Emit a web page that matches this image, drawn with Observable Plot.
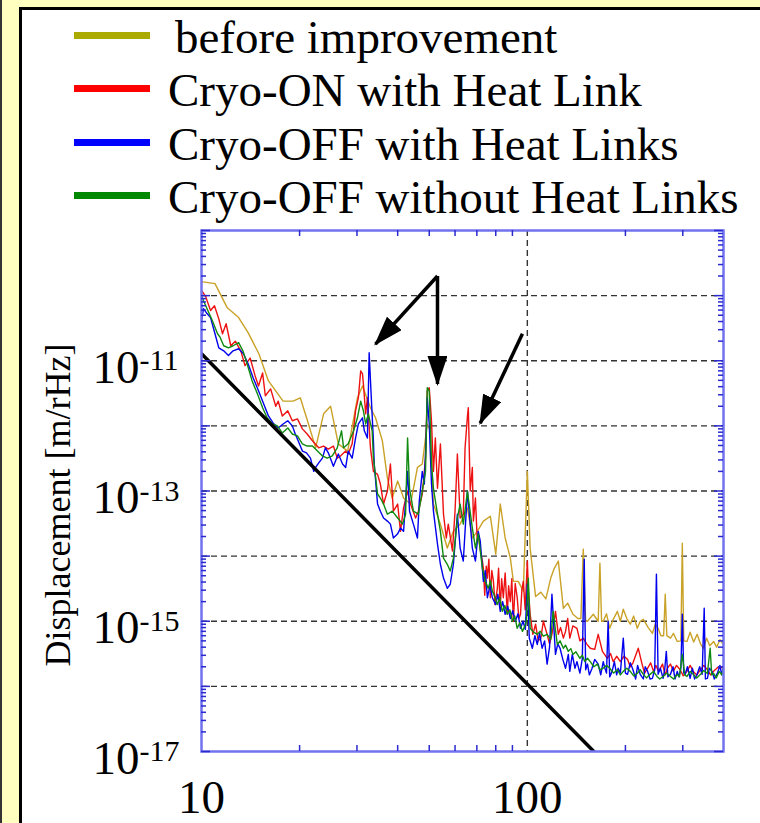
<!DOCTYPE html>
<html><head><meta charset="utf-8">
<script src="https://cdn.jsdelivr.net/npm/d3@7"></script>
<script src="https://cdn.jsdelivr.net/npm/@observablehq/plot@0.6"></script>
<style>
html,body{margin:0;padding:0;}
body{width:760px;height:823px;overflow:hidden;background:#ffffc0;position:relative;font-family:"Liberation Serif","Times New Roman",serif;}
#edge{position:absolute;left:0;top:0;width:2px;height:823px;background:#333;}
#panel{position:absolute;left:19px;top:7px;width:741px;height:816px;background:#fff;border-left:3px solid #000;border-top:3px solid #000;box-sizing:border-box;}
.sw{position:absolute;left:74px;width:76px;height:7px;}
.tx{position:absolute;font-size:47px;line-height:47px;white-space:nowrap;transform:translateY(-50%);color:#000;}
#ytitle{position:absolute;left:58px;top:505px;font-size:36px;line-height:36px;white-space:nowrap;transform:translate(-50%,-50%) rotate(-90deg);}
#chart{position:absolute;left:22px;top:222px;}
</style></head><body>
<div id="edge"></div>
<div id="panel"></div>
<div id="legend"></div>
<div id="ytitle">Displacement [m/rHz]</div>
<div id="chart"></div>
<script>
// ---- data ----
const seriesNames = ["before improvement", "Cryo-ON with Heat Link", "Cryo-OFF with Heat Links", "Cryo-OFF without Heat Links"];
const legendColors = ["#aaaa00", "#ff0000", "#0000ff", "#008800"];
const lineColors = ["#c9a227", "#ee1111", "#0000ee", "#108a10"];

const before = [[10,1.64e-10],[11.0,1.53e-10],[12.0,6.5e-11],[13.0,4.6e-11],[13.9,2.7e-11],[15.0,1.28e-11],[16.05,4.9e-12],[17.8,2.4e-12],[19.1,2.4e-12],[20.1,2.7e-12],[21.3,1.07e-12],[22.4,4.6e-13],[23.7,1.53e-12],[24.9,2.0e-12],[26.3,5.3e-13],[28.1,4.1e-13],[30.1,2.7e-12],[31.2,4.1e-12],[33.0,1.9e-12],[34.2,1.33e-12],[35.9,5.9e-13],[37.2,1.58e-13],[38.5,7.8e-14],[40,1.42e-13],[41.7,7.8e-14],[43.8,6.3e-14],[46.0,2.3e-13],[47.6,2.6e-13],[49.3,1.07e-12],[50.4,8.4e-13],[51.5,6.3e-14],[54.1,3.1e-14],[56.8,1.33e-14],[59.3,2.4e-14],[62.2,3.1e-14],[65.5,5.5e-14],[67.8,1.9e-14],[70.2,2.4e-14],[73.3,3.45e-14],[77.0,4.1e-14],[80,1.07e-14],[82.6,6.3e-14],[85.5,1.9e-14],[88.7,9.3e-15],[90.6,4.1e-15],[93.8,4.1e-15],[97.2,2.9e-15],[100,2.0e-13],[102,1.33e-14],[106,2.4e-15],[110,2.8e-15],[114,2.2e-15],[118,4.6e-15],[121,6.5e-15],[124.5,8.4e-15],[129,1.58e-15],[133,1.9e-15],[138,1.28e-15],[143,1.1e-15],[146,1.1e-15],[148.5,1.28e-14],[151,1.0e-15],[153,1.0e-15],[159.4,1.28e-15],[165,1.0e-15],[167,7.8e-15],[169,1.0e-15],[171,1.0e-15],[175,1.3e-15],[179,7.8e-16],[184,1.1e-15],[189,1.42e-15],[193,1.0e-15],[197,1.53e-15],[202,1.1e-15],[207,9.0e-16],[212,1.2e-15],[217.5,7.8e-16],[222,1.0e-15],[227,1.07e-15],[235,8.0e-16],[242,6.5e-16],[247,9.0e-16],[252,7.8e-16],[257,6.0e-16],[262,6.0e-16],[265,2.6e-15],[268,6.0e-16],[275,5.5e-16],[281,6.5e-16],[288.5,4.9e-16],[296,5.0e-16],[299,1.58e-14],[302,5.0e-16],[309,4.9e-16],[316,6.8e-16],[324,4.8e-16],[332,6.3e-16],[340,4.5e-16],[347,3.85e-16],[355,5.5e-16],[363,4.2e-16],[373,4.9e-16],[381,4.0e-16],[390,5.2e-16],[400,4.4e-16]];

const cryoOn = [[10,1.2e-10],[10.3,9.65e-11],[10.66,5.9e-11],[10.96,7.0e-11],[11.3,4.4e-11],[11.6,2.6e-11],[11.9,3.7e-11],[12.3,1.7e-11],[12.7,2.0e-11],[13.2,1.42e-11],[13.6,8.4e-12],[14.1,1.1e-11],[14.6,5.9e-12],[14.96,4.1e-12],[15.4,6.5e-12],[15.7,2.9e-12],[16.3,3.7e-12],[16.9,2.0e-12],[17.2,2.4e-12],[17.7,1.42e-12],[18.4,1.7e-12],[19.0,1.2e-12],[19.7,1.28e-12],[20.4,9.0e-13],[21.1,7.5e-13],[21.9,5.9e-13],[22.9,4.6e-13],[23.7,4.9e-13],[24.5,4.4e-13],[25.4,4.9e-13],[26.1,3.2e-13],[26.7,3.45e-13],[27.7,4.1e-13],[28.2,3.7e-13],[29.0,5.3e-13],[29.7,1.7e-12],[30.3,2.7e-12],[30.8,7.0e-12],[31.2,6.3e-12],[31.4,4.4e-12],[31.9,1.53e-12],[32.3,2.7e-12],[33.0,4.6e-13],[33.7,2.0e-13],[34.7,1.8e-13],[35.4,1.28e-13],[36.2,6.3e-14],[37.2,1.0e-13],[38.0,2.6e-13],[38.8,4.9e-14],[40,6.3e-14],[40.8,2.4e-14],[41.7,5.5e-14],[42.9,1.0e-13],[43.8,6.3e-14],[45.4,3.85e-14],[46.3,4.9e-14],[47.6,9.0e-14],[48.7,3.2e-13],[49.3,3.45e-12],[50,3.85e-12],[50.8,1.2e-12],[51.5,2.0e-13],[52.2,6.5e-13],[53.0,1.1e-13],[54.1,5.3e-13],[55.3,4.4e-14],[56.4,1.9e-14],[57.2,3.1e-14],[58.9,1.2e-14],[60,4.9e-14],[61.0,3.7e-13],[62.2,3.85e-14],[63.6,4.4e-14],[64.4,4.6e-13],[65.5,1.42e-12],[65.9,1.9e-12],[66.8,1.0e-13],[67.8,2.3e-13],[68.3,3.45e-14],[69.3,7.8e-14],[70.2,1.7e-14],[70.7,2.2e-14],[71.8,1.2e-14],[72.8,8.4e-15],[73.3,6.5e-15],[74,2.5e-15],[74.8,7.0e-15],[75.4,4.6e-15],[76.2,9.0e-15],[77.0,2.3e-15],[77.8,6.0e-15],[78.7,4.1e-15],[79.6,1.8e-15],[80.9,3.2e-15],[81.6,6.5e-15],[82.6,1.58e-15],[83.4,4.5e-15],[84.4,2.3e-15],[85.5,5.5e-15],[86.8,1.28e-15],[87.6,3.5e-15],[88.7,2.0e-15],[89.6,4.5e-15],[90.6,1.0e-15],[91.8,3.8e-15],[93.1,2.3e-15],[94.2,1.1e-15],[95.3,1.28e-15],[96.2,3.0e-15],[97.2,4.1e-15],[98.5,1.5e-15],[100,8.4e-15],[100.7,3.2e-15],[102,1.28e-15],[104,6.3e-16],[106,9.0e-16],[108,5.0e-16],[110,5.5e-16],[112,1.0e-15],[115,6.3e-16],[117,4.5e-16],[119,6.3e-16],[120.5,9.0e-16],[122,1.42e-15],[124.5,6.3e-16],[126.5,8.0e-16],[129,5.5e-16],[131,7.0e-16],[133,1.1e-15],[135,5.5e-16],[138,8.5e-16],[142,7.8e-16],[145,5.0e-16],[148.5,5.5e-16],[152,4.5e-16],[156,3.85e-16],[161,3.7e-16],[165,6.3e-16],[170,3.45e-16],[176,2.7e-16],[180,3.2e-16],[183.5,2.4e-16],[188,2.9e-16],[193,2.4e-16],[198,2.9e-16],[203,2.6e-16],[207,2.0e-16],[211,2.3e-16],[219,3.85e-16],[225,2.2e-16],[229,1.6e-16],[234,1.9e-16],[239,2.3e-16],[244,1.7e-16],[248,2.1e-16],[253,1.7e-16],[260,2.2e-16],[265,1.5e-16],[269,1.9e-16],[275,2.2e-16],[280.5,1.7e-16],[287,2.1e-16],[294.5,1.8e-16],[301,1.45e-16],[309,1.7e-16],[316,2.1e-16],[323,1.7e-16],[331,1.5e-16],[340,1.8e-16],[348,2.1e-16],[357,1.8e-16],[365,1.5e-16],[373,1.7e-16],[386,2.0e-16],[400,1.9e-16]];

const cryoOffWith = [[10,4.1e-11],[10.14,6.3e-11],[10.4,5.3e-11],[10.66,4.6e-11],[11.0,2.6e-11],[11.3,1.58e-11],[11.7,1.42e-11],[12.1,1.2e-11],[12.5,1.42e-11],[13.0,1.53e-11],[13.45,1.28e-11],[13.9,9.0e-12],[14.4,5.5e-12],[14.96,3.45e-12],[15.5,2.2e-12],[16.05,1.42e-12],[16.6,1.1e-12],[17.2,9.3e-13],[17.8,1.07e-12],[18.4,1.2e-12],[19.0,1.0e-12],[19.4,7.5e-13],[19.8,5.9e-13],[20.4,4.1e-13],[21.0,3.85e-13],[21.6,3.2e-13],[22.1,2.0e-13],[22.4,2.3e-13],[22.9,2.7e-13],[23.5,3.2e-13],[24.0,4.6e-13],[24.5,3.85e-13],[25.4,2.4e-13],[26.3,3.7e-13],[27.1,2.6e-13],[27.7,2.3e-13],[28.2,4.1e-13],[29.0,3.2e-13],[29.7,6.5e-13],[30.3,1.07e-12],[31.2,1.33e-12],[31.6,8.4e-13],[32.3,6.5e-13],[32.7,1.33e-11],[33.2,2.7e-12],[33.7,5.9e-13],[33.9,2.6e-13],[34.7,6.3e-14],[35.4,4.9e-14],[36.2,3.85e-14],[37.2,3.45e-14],[38.0,3.1e-14],[38.8,1.9e-14],[40,2.2e-14],[40.8,2.7e-14],[41.7,2.4e-14],[42.9,2.0e-13],[43.5,4.9e-14],[44.7,3.1e-14],[46.0,1.9e-14],[46.6,7.0e-14],[47.6,2.0e-13],[48.3,1.28e-13],[49.0,8.4e-13],[49.3,2.7e-12],[50,1.07e-12],[50.8,1.28e-13],[51.5,4.9e-14],[53.0,1.53e-14],[54.1,7.5e-15],[55.3,4.6e-15],[56.8,3.2e-15],[58,3.7e-15],[59.3,7.5e-15],[61.0,4.4e-14],[62.2,1.33e-14],[63.6,8.4e-15],[65.5,1.0e-13],[66.4,4.4e-14],[67.8,1.33e-14],[69.3,8.4e-15],[70.7,2.4e-14],[71.7,1.7e-14],[73.3,4.1e-15],[74.3,6.0e-15],[75.4,2.3e-15],[76.8,3.6e-15],[78.1,2.3e-15],[80,1.8e-15],[81.2,2.6e-15],[82.6,1.42e-15],[84,2.0e-15],[85.5,1.28e-15],[87,1.7e-15],[88.7,1.1e-15],[90.2,1.45e-15],[91.9,1.0e-15],[93.6,1.3e-15],[95.3,7.8e-16],[97,1.0e-15],[98.6,7.5e-16],[100,3.7e-15],[101.4,5.5e-16],[103.6,3.85e-16],[105.5,6.0e-16],[107.3,4.4e-16],[109,6.5e-16],[111,3.85e-16],[113,5.0e-16],[115,2.2e-16],[117,4.0e-16],[119,2.6e-15],[122,3.1e-16],[124,4.5e-16],[126,3.85e-16],[128.5,2.6e-16],[131,1.9e-16],[133.6,3.1e-16],[135,1.7e-16],[137.4,3.1e-16],[140,1.9e-16],[142,2.4e-16],[145,1.6e-16],[147.5,2.7e-16],[149.5,9.0e-15],[151,1.8e-16],[153,2.2e-16],[155,1.5e-16],[158,1.9e-16],[161,2.6e-16],[165,2.2e-16],[168,1.5e-16],[171,2.4e-16],[173,1.9e-16],[175,1.6e-16],[177,1.0e-15],[179,1.4e-16],[182,1.7e-16],[185,2.4e-16],[188,1.5e-16],[190,1.9e-16],[193,1.6e-16],[197,5.5e-16],[200,1.6e-16],[203,1.53e-16],[207,2.3e-16],[211,1.8e-16],[215,1.3e-16],[218,2.1e-16],[222,1.53e-16],[227,1.3e-16],[230,2.0e-16],[234,1.7e-16],[238,1.3e-16],[242,1.33e-16],[246,1.8e-16],[249,5.3e-15],[252,1.53e-16],[256,1.9e-16],[261,1.33e-16],[264,1.8e-16],[267,3.45e-16],[270,1.4e-16],[275,1.53e-16],[280,2.0e-16],[284,1.3e-16],[288.5,1.7e-16],[292,1.4e-16],[296,1.9e-16],[299,1.28e-15],[302,1.6e-16],[305,1.53e-16],[310,2.0e-16],[316,1.33e-16],[321,1.9e-16],[326,1.3e-16],[332,1.53e-16],[338,2.0e-16],[344,1.53e-16],[349,1.58e-15],[352,1.3e-16],[357,1.33e-16],[362,1.9e-16],[369,1.7e-16],[375,1.3e-16],[383,1.58e-16],[390,2.1e-16],[395,1.5e-16],[400,2.0e-16]];

const cryoOffWithout = [[10,1.0e-10],[10.14,8.4e-11],[10.4,6.3e-11],[10.8,4.1e-11],[11.2,2.6e-11],[11.4,2.3e-11],[11.7,1.7e-11],[12.1,1.58e-11],[12.5,1.7e-11],[13.0,1.9e-11],[13.4,1.42e-11],[13.8,9.0e-12],[14.3,4.9e-12],[14.85,3.1e-12],[15.4,1.9e-12],[15.9,1.33e-12],[16.5,1.07e-12],[17.1,1.0e-12],[17.7,7.8e-13],[18.4,9.3e-13],[19.0,7.5e-13],[19.7,7.0e-13],[20.4,5.3e-13],[21.1,4.9e-13],[21.9,4.9e-13],[22.7,4.1e-13],[23.5,3.45e-13],[24.3,3.2e-13],[25.2,3.45e-13],[26.1,4.6e-13],[26.9,8.4e-13],[27.3,4.6e-13],[28.2,5.3e-13],[29.3,8.4e-13],[30.1,1.33e-12],[30.8,2.4e-12],[31.4,1.7e-12],[31.9,1.07e-12],[32.5,1.53e-12],[33.4,8.4e-13],[33.7,3.2e-13],[34.7,9.0e-14],[35.4,7.8e-14],[36.2,6.3e-14],[37.2,4.4e-14],[38.5,4.9e-14],[40,3.85e-14],[41.4,3.1e-14],[42.3,4.4e-14],[42.9,6.5e-13],[43.5,1.1e-13],[44.7,4.9e-14],[46.3,4.4e-14],[47.6,1.0e-13],[48.7,2.0e-13],[49.3,3.85e-12],[50,3.45e-12],[50.8,2.6e-13],[51.5,1.1e-13],[53.0,4.4e-14],[54.1,2.4e-14],[55.3,9.3e-15],[56.8,7.5e-15],[58,5.9e-15],[59.3,9.3e-15],[61.0,3.85e-14],[62.2,6.3e-14],[63.6,3.1e-14],[65.5,1.0e-13],[65.9,7.8e-14],[67.8,2.7e-14],[69.3,1.33e-14],[70.7,2.2e-14],[72.8,6.5e-15],[74.3,4.1e-15],[75.9,3.2e-15],[77,4.2e-15],[78.1,2.9e-15],[79.5,2.4e-15],[80.9,1.8e-15],[82.3,2.3e-15],[83.8,1.42e-15],[85.3,1.75e-15],[86.8,1.28e-15],[88.4,1.5e-15],[90,1.0e-15],[91.5,1.2e-15],[93.1,7.8e-16],[94.8,9.5e-16],[96.6,7.0e-16],[98,8.2e-16],[99.3,1.0e-15],[100.7,4.6e-15],[102,7.8e-16],[104.5,6.8e-16],[107.3,6.3e-16],[109.5,7.0e-16],[112,5.9e-16],[115,6.3e-16],[118,5.3e-16],[120,1.42e-15],[123.6,4.4e-16],[126,5.0e-16],[129,3.85e-16],[131,4.3e-16],[133.6,3.45e-16],[136,3.8e-16],[138,3.1e-16],[141,3.4e-16],[145,2.7e-16],[147.5,3.0e-16],[150,2.4e-16],[153,2.7e-16],[156,2.4e-16],[160,2.0e-16],[164,2.2e-16],[167,1.8e-16],[171,1.9e-16],[175,2.1e-16],[179,1.9e-16],[184,1.6e-16],[189,1.8e-16],[193,1.5e-16],[197,1.7e-16],[202,1.9e-16],[207,1.7e-16],[212,1.45e-16],[217.5,1.58e-16],[222,1.8e-16],[227,1.53e-16],[232,1.35e-16],[238,1.53e-16],[244,1.7e-16],[250,1.42e-16],[255,1.3e-16],[261,1.42e-16],[268,1.6e-16],[275,1.42e-16],[281,1.3e-16],[288.5,1.53e-16],[293,1.4e-16],[299,3.1e-16],[304,1.5e-16],[309,1.42e-16],[316,1.7e-16],[323,1.53e-16],[331,1.35e-16],[340,1.53e-16],[348,1.75e-16],[357,1.58e-16],[364,3.85e-16],[368,1.5e-16],[373,1.58e-16],[380,1.35e-16],[388,1.7e-16],[395,1.5e-16],[400,1.9e-16]];

const powerLaw = [[10,1.28e-11],[160,1e-17]];
const arrowLines = [[[53,2.0e-10],[34.2,1.8e-11]],[[53,2.0e-10],[53,4.4e-12]],[[96.6,2.6e-11],[71.7,1.1e-12]]];

const yLabelValues = [1e-11, 1e-13, 1e-15, 1e-17];
const yLabelExponents = ["-11", "-13", "-15", "-17"];
const xLabelValues = [10, 100];
const xLabelTexts = ["10", "100"];
const yGrid = [1e-16, 1e-15, 1e-14, 1e-13, 1e-12, 1e-11, 1e-10];
const xGrid = [100];
const xTickValues = [20, 30, 40, 50, 60, 70, 80, 90, 200, 300];

// ---- legend ----
const legend = document.getElementById("legend");
const rowY = [35, 88, 142, 195];
const textX = [175, 168, 168, 168];
seriesNames.forEach((n, i) => {
  const s = document.createElement("div");
  s.className = "sw"; s.style.top = (rowY[i] - 3.5) + "px"; s.style.background = legendColors[i];
  legend.appendChild(s);
  const t = document.createElement("div");
  t.className = "tx"; t.style.top = (rowY[i] + 2) + "px"; t.style.left = textX[i] + "px"; t.textContent = n;
  legend.appendChild(t);
});

// ---- ticks ----
const majorY = [];
const minorY = [];
for (let e = -17; e <= -9; e++) {
  majorY.push(Math.pow(10, e));
  if (e < -9) for (let m = 2; m <= 9; m++) minorY.push(m * Math.pow(10, e));
}

const W = 738, H = 601, ML = 179, MR = 37, MT = 8, MB = 72;
const FW = W - ML - MR, FH = H - MT - MB;
const tickColor = "#2a2ad0";
const series = [before, cryoOn, cryoOffWith, cryoOffWithout];

const plot = Plot.plot({
  width: W, height: H,
  marginLeft: ML, marginRight: MR, marginTop: MT, marginBottom: MB,
  x: {type: "log", domain: [10, 400], axis: null},
  y: {type: "log", domain: [1e-17, 1e-9], axis: null},
  style: {background: "transparent", fontFamily: "Liberation Serif, Times New Roman, serif", overflow: "visible"},
  marks: [
    Plot.ruleY(yGrid, {y: d => d, stroke: "#333", strokeWidth: 1.4, strokeDasharray: "6,4"}),
    Plot.ruleX(xGrid, {x: d => d, stroke: "#333", strokeWidth: 1.4, strokeDasharray: "6,4"}),
    ...series.map((s, i) => Plot.line(s, {x: d => d[0], y: d => d[1], stroke: lineColors[i], strokeWidth: 1.4, clip: true})),
    Plot.line(powerLaw, {x: d => d[0], y: d => d[1], stroke: "#000", strokeWidth: 3.5, clip: true}),
    Plot.frame({stroke: "#7272ee", strokeWidth: 2.5}),
    Plot.tickY(minorY, {y: d => d, insetRight: FW - 5, stroke: tickColor, strokeWidth: 1.5}),
    Plot.tickY(majorY, {y: d => d, insetRight: FW - 9, stroke: tickColor, strokeWidth: 1.5}),
    Plot.tickY(minorY, {y: d => d, insetLeft: FW - 5, stroke: tickColor, strokeWidth: 1.5}),
    Plot.tickY(majorY, {y: d => d, insetLeft: FW - 9, stroke: tickColor, strokeWidth: 1.5}),
    Plot.tickX(xTickValues, {x: d => d, insetTop: FH - 6, stroke: tickColor, strokeWidth: 1.5}),
    Plot.tickX(xTickValues, {x: d => d, insetBottom: FH - 6, stroke: tickColor, strokeWidth: 1.5}),
    Plot.link(arrowLines, {x1: d => d[0][0], y1: d => d[0][1], x2: d => d[1][0], y2: d => d[1][1], stroke: "#000", strokeWidth: 3.5}),
    Plot.text(yLabelValues, {y: d => d, frameAnchor: "left", lineAnchor: "middle", text: () => "10", textAnchor: "end", dx: -62, dy: 7, fontSize: 47, fill: "#000"}),
    Plot.text(yLabelValues, {y: d => d, frameAnchor: "left", lineAnchor: "middle", text: (d, i) => yLabelExponents[i], textAnchor: "start", dx: -62, dy: 0, fontSize: 30, fill: "#000"}),
    Plot.text(xLabelValues, {x: d => d, frameAnchor: "bottom", lineAnchor: "middle", text: (d, i) => xLabelTexts[i], dy: 46, fontSize: 47, fill: "#000"})
  ]
});

// filled arrowheads
const ns = "http://www.w3.org/2000/svg";
const defs = document.createElementNS(ns, "defs");
const marker = document.createElementNS(ns, "marker");
marker.setAttribute("id", "ahead");
marker.setAttribute("viewBox", "0 0 30 20");
marker.setAttribute("refX", "28");
marker.setAttribute("refY", "10");
marker.setAttribute("markerWidth", "30");
marker.setAttribute("markerHeight", "20");
marker.setAttribute("markerUnits", "userSpaceOnUse");
marker.setAttribute("orient", "auto");
const mp = document.createElementNS(ns, "path");
mp.setAttribute("d", "M0,0L30,10L0,20Z");
mp.setAttribute("fill", "#000");
marker.appendChild(mp);
defs.appendChild(marker);
plot.insertBefore(defs, plot.firstChild);
plot.querySelectorAll('g[aria-label="link"] path, g[aria-label="link"] line').forEach(p => p.setAttribute("marker-end", "url(#ahead)"));

document.getElementById("chart").appendChild(plot);
</script>
</body></html>
